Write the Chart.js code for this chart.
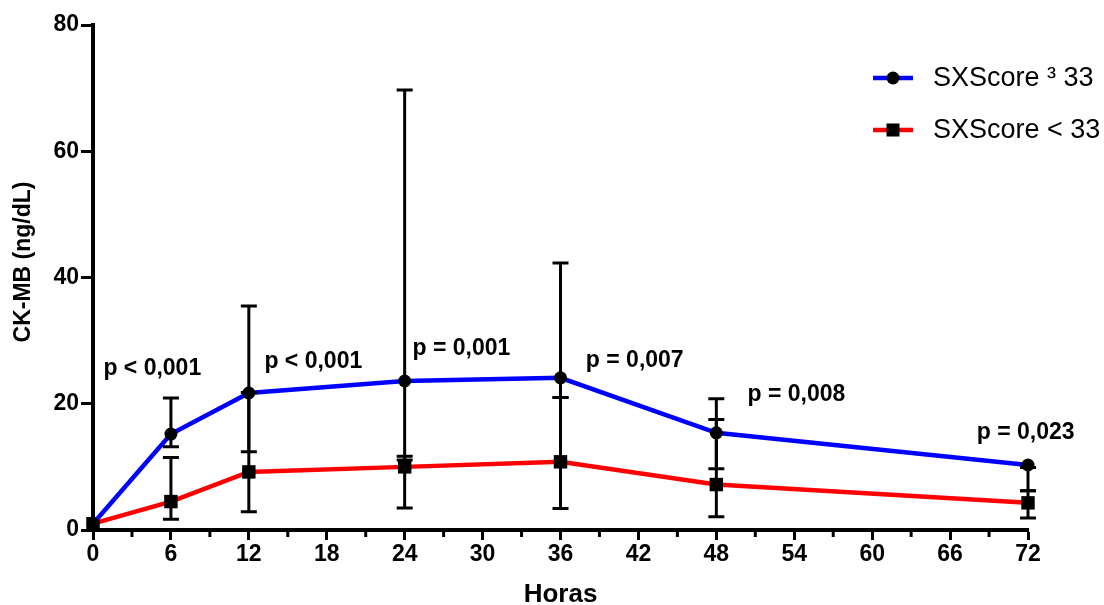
<!DOCTYPE html>
<html>
<head>
<meta charset="utf-8">
<script src="https://cdn.jsdelivr.net/npm/chart.js@4/dist/chart.umd.min.js"></script>
<style>
  html, body { margin: 0; padding: 0; background: #ffffff; }
  #wrap { width: 1104px; height: 605px; position: relative; }
</style>
</head>
<body>
<div id="wrap"><canvas id="c" width="1104" height="605"></canvas></div>
<script>
// ---- data ----
const hours = [0, 6, 12, 24, 36, 48, 72];
const seriesLabels = ['SXScore \u00B3 33', 'SXScore < 33'];
const highValues  = [1.0, 15.2, 21.7, 23.6, 24.1, 15.4, 10.3];
const highErrLow  = [null, 13.2, 12.4, 11.1, 21.0, 9.7, 6.2];
const highErrHigh = [null, 20.9, 35.5, 69.7, 42.3, 20.8, 9.9];
const lowValues   = [1.0, 4.5, 9.2, 10.0, 10.8, 7.2, 4.3];
const lowErrLow   = [null, 1.7, 2.9, 3.5, 3.4, 2.1, 1.9];
const lowErrHigh  = [null, 11.5, 21.8, 11.7, 21.0, 17.5, 6.2];
const pTexts = ['p < 0,001', 'p < 0,001', 'p = 0,001', 'p = 0,007', 'p = 0,008', 'p = 0,023'];
const pAnchorHours = [0.8, 13.2, 24.6, 37.95, 50.4, 68.05];
const pAnchorValues = [25.6, 26.6, 28.8, 26.8, 21.4, 15.4];
const xTickStep = 6;
const xMinorStep = 3;
const yTickValues = [0, 20, 40, 60, 80];
const xTitle = 'Horas';
const yTitle = 'CK-MB (ng/dL)';

const FONT = "'Liberation Sans', Arial, sans-serif";

const errorBarPlugin = {
  id: 'errorBars',
  afterDatasetsDraw(chart) {
    const ctx = chart.ctx;
    const xs = chart.scales.x, ys = chart.scales.y;
    const sets = [[highErrLow, highErrHigh], [lowErrLow, lowErrHigh]];
    ctx.save();
    ctx.strokeStyle = '#000';
    ctx.lineWidth = 3;
    ctx.lineCap = 'butt';
    sets.forEach(([lo, hi]) => {
      hours.forEach((h, i) => {
        if (lo[i] == null || hi[i] == null) return;
        const px = xs.getPixelForValue(h);
        const y1 = ys.getPixelForValue(lo[i]);
        const y2 = ys.getPixelForValue(hi[i]);
        ctx.beginPath();
        ctx.moveTo(px, y1); ctx.lineTo(px, y2);
        ctx.moveTo(px - 8, y1); ctx.lineTo(px + 8, y1);
        ctx.moveTo(px - 8, y2); ctx.lineTo(px + 8, y2);
        ctx.stroke();
      });
    });
    // p-value annotations
    ctx.fillStyle = '#000';
    ctx.font = 'bold 23px ' + FONT;
    ctx.textAlign = 'left';
    ctx.textBaseline = 'middle';
    pTexts.forEach((t, i) => {
      ctx.fillText(t, xs.getPixelForValue(pAnchorHours[i]), ys.getPixelForValue(pAnchorValues[i]));
    });
    ctx.restore();
  }
};

const extrasPlugin = {
  id: 'extras',
  afterDraw(chart) {
    const ctx = chart.ctx;
    const xs = chart.scales.x;
    const base = chart.chartArea.bottom;
    ctx.save();
    // minor x ticks
    ctx.strokeStyle = '#000';
    ctx.lineWidth = 3;
    for (let v = xs.min; v <= xs.max; v += xMinorStep) {
      if (v % xTickStep === 0) continue;
      const px = xs.getPixelForValue(v);
      ctx.beginPath();
      ctx.moveTo(px, base); ctx.lineTo(px, base + 7);
      ctx.stroke();
    }
    // axis titles
    ctx.fillStyle = '#000';
    ctx.textAlign = 'center';
    ctx.textBaseline = 'middle';
    ctx.font = 'bold 26px ' + FONT;
    ctx.fillText(xTitle, (xs.left + xs.right) / 2 + 93 - 93, 595);
    ctx.save();
    ctx.translate(24, 262);
    ctx.rotate(-Math.PI / 2);
    ctx.font = 'bold 23px ' + FONT;
    ctx.fillText(yTitle, 0, 0);
    ctx.restore();
    // legend
    const rows = [78, 130];
    chart.data.datasets.forEach((ds, i) => {
      const y = rows[i];
      ctx.strokeStyle = ds.borderColor;
      ctx.lineWidth = 4.5;
      ctx.beginPath();
      ctx.moveTo(873, y); ctx.lineTo(913, y);
      ctx.stroke();
      ctx.fillStyle = '#000';
      if (ds.pointStyle === 'circle') {
        ctx.beginPath(); ctx.arc(893, y, 6.5, 0, Math.PI * 2); ctx.fill();
      } else {
        ctx.fillRect(886.5, y - 6.5, 13, 13);
      }
      ctx.font = '27px ' + FONT;
      ctx.textAlign = 'left';
      ctx.textBaseline = 'middle';
      ctx.fillText(ds.label, 933, y + 1);
    });
    ctx.restore();
  }
};

new Chart(document.getElementById('c'), {
  type: 'line',
  data: {
    datasets: [
      {
        label: seriesLabels[0],
        data: hours.map((h, i) => ({ x: h, y: highValues[i] })),
        borderColor: '#0000ff',
        borderWidth: 4.5,
        pointStyle: 'circle',
        pointRadius: 6.5,
        pointBorderWidth: 0,
        pointBackgroundColor: '#000',
        pointBorderColor: '#000',
        tension: 0,
        clip: false
      },
      {
        label: seriesLabels[1],
        data: hours.map((h, i) => ({ x: h, y: lowValues[i] })),
        borderColor: '#ff0000',
        borderWidth: 4.5,
        pointStyle: 'rect',
        pointRadius: 9.5,
        pointBorderWidth: 0,
        pointBackgroundColor: '#000',
        pointBorderColor: '#000',
        tension: 0,
        clip: false
      }
    ]
  },
  options: {
    responsive: false,
    animation: false,
    layout: { padding: { top: 25, right: 76, left: 0, bottom: 0 } },
    plugins: { legend: { display: false }, tooltip: { enabled: false } },
    scales: {
      x: {
        type: 'linear',
        min: 0, max: 72,
        afterFit(scale) { scale.height = 75; },
        afterBuildTicks(scale) {
          scale.ticks = [];
          for (let v = 0; v <= 72; v += xTickStep) scale.ticks.push({ value: v });
        },
        border: { display: true, color: '#000', width: 4 },
        grid: { display: true, drawOnChartArea: false, drawTicks: true, tickLength: 10, tickWidth: 3, tickColor: '#000' },
        ticks: { color: '#000', font: { family: FONT, size: 23, weight: 'bold' }, padding: 1, maxRotation: 0, autoSkip: false },
        title: { display: false }
      },
      y: {
        type: 'linear',
        min: 0, max: 80,
        afterFit(scale) { scale.width = 93; },
        afterBuildTicks(scale) { scale.ticks = yTickValues.map(v => ({ value: v })); },
        border: { display: true, color: '#000', width: 4 },
        grid: { display: true, drawOnChartArea: false, drawTicks: true, tickLength: 12, tickWidth: 3, tickColor: '#000' },
        ticks: { color: '#000', font: { family: FONT, size: 23, weight: 'bold' }, padding: 2 },
        title: { display: false }
      }
    }
  },
  plugins: [errorBarPlugin, extrasPlugin]
});
</script>
</body>
</html>
